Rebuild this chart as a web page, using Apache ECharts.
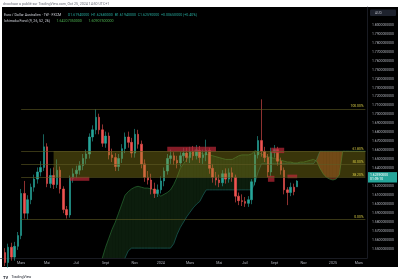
<!DOCTYPE html>
<html><head><meta charset="utf-8">
<script src="https://cdn.jsdelivr.net/npm/echarts@6/dist/echarts.min.js"></script>
<style>html,body{margin:0;padding:0;background:#fff;overflow:hidden}#c{width:400px;height:279px}</style>
</head><body><div id="c"></div>
<script>
// ---- categories (weekly bars) ----
const weeks = [
'2023-01-23','2023-01-30','2023-02-06','2023-02-13','2023-02-20','2023-02-27','2023-03-06','2023-03-13','2023-03-20','2023-03-27',
'2023-04-03','2023-04-10','2023-04-17','2023-04-24','2023-05-01','2023-05-08','2023-05-15','2023-05-22','2023-05-29','2023-06-05',
'2023-06-12','2023-06-19','2023-06-26','2023-07-03','2023-07-10','2023-07-17','2023-07-24','2023-07-31','2023-08-07','2023-08-14',
'2023-08-21','2023-08-28','2023-09-04','2023-09-11','2023-09-18','2023-09-25','2023-10-02','2023-10-09','2023-10-16','2023-10-23',
'2023-10-30','2023-11-06','2023-11-13','2023-11-20','2023-11-27','2023-12-04','2023-12-11','2023-12-18','2023-12-25','2024-01-01',
'2024-01-08','2024-01-15','2024-01-22','2024-01-29','2024-02-05','2024-02-12','2024-02-19','2024-02-26','2024-03-04','2024-03-11',
'2024-03-18','2024-03-25','2024-04-01','2024-04-08','2024-04-15','2024-04-22','2024-04-29','2024-05-06','2024-05-13','2024-05-20',
'2024-05-27','2024-06-03','2024-06-10','2024-06-17','2024-06-24','2024-07-01','2024-07-08','2024-07-15','2024-07-22','2024-07-29',
'2024-08-05','2024-08-12','2024-08-19','2024-08-26','2024-09-02','2024-09-09','2024-09-16','2024-09-23','2024-09-30','2024-10-07',
'2024-10-14','2024-10-21','2024-10-28','2024-11-04','2024-11-11','2024-11-18','2024-11-25','2024-12-02','2024-12-09','2024-12-16',
'2024-12-23','2024-12-30','2025-01-06','2025-01-13','2025-01-20','2025-01-27','2025-02-03','2025-02-10','2025-02-17','2025-02-24',
'2025-03-03','2025-03-10','2025-03-17'];

// ---- time axis tick labels ----
const monthLabels = [
 ['2023-03-06','Mars'],['2023-05-01','Mai'],['2023-07-03','Juil'],['2023-09-04','Sept'],['2023-11-06','Nov'],
 ['2024-01-01','2024'],['2024-03-04','Mars'],['2024-05-06','Mai'],['2024-07-01','Juil'],['2024-09-02','Sept'],
 ['2024-11-04','Nov'],['2025-01-06','2025'],['2025-03-03','Mars']];

// ---- OHLC (weekly, EUR/AUD) ----
const opens  = [null,1.546,1.535,1.552,1.541,1.553,1.565,1.612,1.590,1.605,1.619,1.628,1.636,1.641,1.664,1.623,1.632,1.622,1.638,1.617,
 1.594,1.588,1.629,1.634,1.638,1.643,1.651,1.656,1.675,1.683,1.697,1.683,1.668,1.676,1.655,1.652,1.642,1.651,1.662,1.675,
 1.669,1.657,1.678,1.667,1.645,1.630,1.627,1.617,1.612,1.616,1.626,1.637,1.651,1.654,1.649,1.646,1.654,1.657,1.652,1.659,
 1.654,1.660,1.652,1.655,1.660,1.640,1.630,1.627,1.624,1.634,1.628,1.635,1.630,1.609,1.604,1.603,1.601,1.605,1.625,1.655,
 1.671,1.659,1.652,1.636,1.658,1.661,1.648,1.638,1.616,1.613,1.619,1.6194];
const closes = [null,1.535,1.552,1.541,1.553,1.565,1.612,1.590,1.605,1.619,1.628,1.636,1.641,1.664,1.623,1.632,1.622,1.638,1.617,1.594,
 1.588,1.629,1.634,1.638,1.643,1.651,1.656,1.675,1.683,1.697,1.683,1.668,1.676,1.655,1.652,1.642,1.651,1.662,1.675,1.669,
 1.657,1.678,1.667,1.645,1.630,1.627,1.617,1.612,1.616,1.626,1.637,1.651,1.654,1.649,1.646,1.654,1.657,1.652,1.659,1.654,
 1.660,1.652,1.655,1.660,1.640,1.630,1.627,1.624,1.634,1.628,1.635,1.630,1.609,1.604,1.603,1.601,1.605,1.625,1.655,1.671,
 1.659,1.652,1.636,1.658,1.661,1.648,1.638,1.616,1.613,1.619,1.614,1.6259];
const lows   = [null,1.531,1.529,1.537,1.537,1.549,1.561,1.584,1.583,1.600,1.614,1.623,1.631,1.637,1.619,1.618,1.617,1.618,1.612,1.590,
 1.584,1.585,1.624,1.629,1.633,1.638,1.645,1.651,1.670,1.678,1.678,1.664,1.663,1.650,1.647,1.637,1.637,1.646,1.657,1.663,
 1.652,1.652,1.662,1.640,1.625,1.622,1.611,1.607,1.608,1.612,1.620,1.633,1.645,1.644,1.640,1.642,1.648,1.647,1.646,1.649,
 1.650,1.646,1.645,1.648,1.634,1.624,1.621,1.619,1.620,1.623,1.624,1.625,1.602,1.599,1.598,1.597,1.597,1.600,1.621,1.651,
 1.653,1.647,1.630,1.631,1.652,1.643,1.633,1.611,1.599,1.609,1.610,1.6194];
const highs  = [null,1.551,1.556,1.557,1.558,1.569,1.617,1.626,1.610,1.623,1.633,1.641,1.648,1.678,1.668,1.640,1.641,1.650,1.642,1.620,
 1.598,1.632,1.640,1.643,1.648,1.656,1.661,1.679,1.688,1.706,1.701,1.689,1.681,1.680,1.662,1.657,1.656,1.667,1.680,1.681,
 1.674,1.684,1.683,1.671,1.650,1.637,1.634,1.624,1.622,1.631,1.641,1.656,1.661,1.658,1.654,1.658,1.663,1.663,1.664,1.665,
 1.666,1.665,1.661,1.672,1.663,1.645,1.636,1.633,1.638,1.640,1.640,1.641,1.633,1.613,1.611,1.608,1.609,1.628,1.658,1.676,
 1.717,1.664,1.656,1.663,1.666,1.664,1.652,1.641,1.619,1.624,1.623,1.6268];

// ---- Ichimoku cloud spans (from cloudStart to last category) ----
const cloudStart = '2023-08-21';
const spanA = [1.520,1.540,1.552,1.562,1.572,1.580,1.590,1.600,1.610,1.614,1.617,1.619,1.620,1.619,1.618,1.618,1.617,1.616,1.612,1.609,
 1.611,1.613,1.616,1.622,1.630,1.640,1.645,1.650,1.655,1.659,1.662,1.658,1.656,1.656,1.655,1.654,1.653,1.652,1.651,1.650,
 1.650,1.650,1.652,1.654,1.655,1.655,1.655,1.656,1.660,1.658,1.656,1.654,1.653,1.652,1.651,1.650,1.649,1.648,1.647,1.647,
 1.646,1.646,1.647,1.647,1.648,1.649,1.650,1.648,1.640,1.634,1.630,1.628,1.627,1.628,1.633,1.659,1.659,1.659,1.659,1.659,
 1.659,1.659,1.659];
const spanB = [1.500,1.505,1.510,1.515,1.520,1.525,1.530,1.532,1.540,1.548,1.551,1.551,1.551,1.551,1.551,1.551,1.551,1.551,1.551,1.551,
 1.551,1.551,1.551,1.556,1.566,1.574,1.580,1.586,1.591,1.596,1.600,1.603,1.610,1.616,1.616,1.616,1.616,1.616,1.616,1.616,
 1.616,1.616,1.616,1.616,1.616,1.616,1.616,1.616,1.624,1.636,1.645,1.645,1.645,1.645,1.645,1.645,1.645,1.645,1.645,1.645,
 1.645,1.645,1.645,1.645,1.645,1.645,1.645,1.650,1.659,1.659,1.659,1.659,1.659,1.659,1.659,1.659,1.659,1.659,1.659,1.659,
 1.659,1.659,1.659];

// ---- Fibonacci retracement drawing ----
const fibStart = '2023-03-06';
const fibLevels = [['100.00%',1.7064],['61.80%',1.6594],['50.00%',1.6449],['38.20%',1.6304],['0.00%',1.5834]];
const fibZone = ['2023-05-15', 1.6594, 1.6304];
// ---- supply boxes [start, end, low, high] ----
const boxes = [
 ['2023-06-19','2023-07-31',1.6261,1.6305],
 ['2024-01-15','2024-04-29',1.6584,1.6640],
 ['2024-08-26','2024-09-23',1.6570,1.6630],
 ['2024-08-19','2024-09-02',1.6250,1.6317],
 ['2024-09-30','2024-10-21',1.6290,1.6330]];
const lastPrice = 1.6259;

const UP='#26a69a', DN='#ef5350';
const FONT='Roboto';
const idxOf = d => weeks.indexOf(d);
const cs = idxOf(cloudStart);
const fullA = weeks.map((w,i)=> i>=cs ? spanA[i-cs] : null);
const fullB = weeks.map((w,i)=> i>=cs ? spanB[i-cs] : null);
const cloudSegs = [];
for (let k=0;k<spanA.length-1;k++) cloudSegs.push([cs+k, spanA[k], spanB[k], spanA[k+1], spanB[k+1]]);
const candles = opens.map((o,i)=> o==null ? '-' : [o, closes[i], lows[i], highs[i]]);
const labelMap = Object.fromEntries(monthLabels);
const last = weeks[weeks.length-1];

const chart = echarts.init(document.getElementById('c'), null, {renderer:'canvas'});
chart.setOption({
  animation:false,
  textStyle:{fontFamily:FONT},
  graphic:[
    {type:'rect', z:-10, shape:{x:2,y:7,width:396,height:260}, style:{fill:'#000'}},
    {type:'text', x:3, y:1.6, style:{text:'dnochaor a publié sur TradingView.com, Oct 25, 2024 14:50 UTC+1', fill:'#6a6d78', font:'3.6px '+FONT}},
    {type:'text', x:4, y:9.5, style:{
      text:'{a|Euro / Dollar Australien · 1W · FXCM}  {g|O1.61940000  H1.62680000  B1.61940000  C1.62590000  +0.00650000 (+0.40%)}',
      rich:{a:{fill:'#d1d4dc',font:'3.6px '+FONT}, g:{fill:'#26a69a',font:'3.6px '+FONT}}}},
    {type:'text', x:4, y:14.8, style:{
      text:'{a|Ichimoku Fond (9, 26, 52, 26)}  {g|1.64207350000}  {g|1.60907500000}',
      rich:{a:{fill:'#d1d4dc',font:'3.6px '+FONT}, g:{fill:'#4caf50',font:'3.6px '+FONT}}}},
    {type:'rect', shape:{x:370,y:9.5,width:26,height:6.5,r:1}, style:{fill:'#1e222d'}},
    {type:'text', x:375, y:11.2, style:{text:'AUD', fill:'#b2b5be', font:'3.4px '+FONT}},
    {type:'text', x:3, y:271.5, style:{text:'{b|TV} {t|TradingView}', rich:{b:{fill:'#131722',font:'bold 4px '+FONT}, t:{fill:'#131722',font:'3.6px '+FONT}}}}
  ],
  grid:{left:0, right:33, top:7, bottom:21, containLabel:false},
  xAxis:{type:'category', data:weeks, boundaryGap:true,
    axisLine:{show:true, lineStyle:{color:'#2a2e39', width:0.6}},
    axisTick:{show:false}, splitLine:{show:false},
    axisLabel:{interval:(i,v)=> v in labelMap, formatter:v=> labelMap[v]||'', color:'#b2b5be', fontSize:3.6, margin:3, hideOverlap:false}},
  yAxis:{type:'value', position:'right', min:1.54, max:1.82, interval:0.01, scale:true,
    axisLine:{show:true, lineStyle:{color:'#2a2e39', width:0.6}},
    axisTick:{show:false}, splitLine:{show:false},
    axisLabel:{formatter:v=> (v>1.545 && v<1.805) ? v.toFixed(10) : '', color:'#b2b5be', fontSize:3.4, margin:5, align:'left'}},
  series:[
    {type:'custom', name:'cloud', z:1, clip:true, data:cloudSegs, encode:{x:0,y:1},
     renderItem:(params, api)=>{
       const i=api.value(0), a0=api.value(1), b0=api.value(2), a1=api.value(3), b1=api.value(4);
       const pts=[api.coord([i,a0]),api.coord([i+1,a1]),api.coord([i+1,b1]),api.coord([i,b0])];
       const up=(a0+a1)>=(b0+b1);
       return {type:'polygon', shape:{points:pts}, style:{fill: up?'rgba(67,160,71,0.18)':'rgba(244,90,54,0.38)'}};
     }},
    {type:'line', name:'spanA', data:fullA, z:1, showSymbol:false, clip:true, lineStyle:{color:'#2f7d3a', width:0.6}},
    {type:'line', name:'spanB', data:fullB, z:1, showSymbol:false, clip:true, lineStyle:{color:'#1f706b', width:0.6}},
    {type:'candlestick', name:'EURAUD', data:candles, z:2, barWidth:2,
     itemStyle:{color:UP, color0:DN, borderColor:UP, borderColor0:DN, borderWidth:0.6},
     markLine:{silent:true, symbol:['none','none'], z:6,
       lineStyle:{color:'rgba(0,0,0,0)'},
       data:[{yAxis:lastPrice, label:{show:true, position:'end', distance:1, formatter:'1.62590000\n01:09:10',
         backgroundColor:'#26a69a', color:'#fff', fontSize:3.4, lineHeight:4.2, padding:[1,3,1,2], width:24}}]}},
    {type:'line', name:'drawings', data:[], z:5,
     markArea:{silent:true, z:5, data:[
       [{coord:[fibZone[0], fibZone[1]], itemStyle:{color:'rgba(150,140,25,0.38)'}},{coord:[last, fibZone[2]]}],
       ...boxes.map(b=>[{coord:[b[0],b[3]], itemStyle:{color:'rgba(190,40,55,0.7)'}},{coord:[b[1],b[2]]}])
     ]},
     markLine:{silent:true, symbol:['none','none'], z:6,
       lineStyle:{color:'#5e5a24', width:0.6, type:'solid'},
       label:{show:true, position:'insideEndTop', color:'#d8cc45', fontSize:3.4, distance:[2,0.8], formatter:p=>p.name},
       data: fibLevels.map(f=>[{name:f[0], coord:[fibStart,f[1]]},{coord:[last,f[1]]}])}}
  ]
});
</script></body></html>
